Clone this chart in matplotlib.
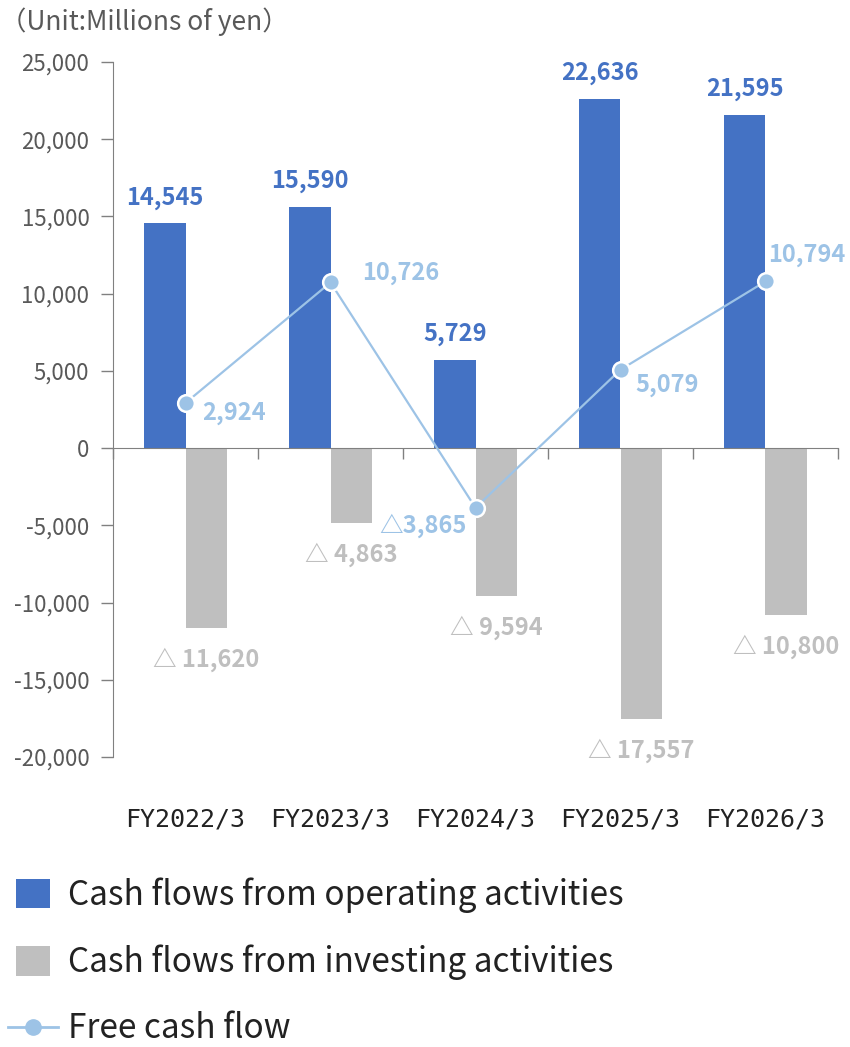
import matplotlib
matplotlib.use("Agg")
import matplotlib.pyplot as plt
from matplotlib.lines import Line2D
from matplotlib.patches import Patch
import numpy as np

plt.rcParams['font.family'] = ['Noto Sans CJK JP', 'DejaVu Sans']

# data (millions of yen)
years = ['FY2022/3', 'FY2023/3', 'FY2024/3', 'FY2025/3', 'FY2026/3']
operating = [14545, 15590, 5729, 22636, 21595]
investing = [-11620, -4863, -9594, -17557, -10800]
free_cf = [2924, 10726, -3865, 5079, 10794]

# colours
c_op = '#4472C4'
c_inv = '#BFBFBF'
c_fcf = '#9DC3E6'
c_text = '#595959'

# offsets (points) + alignment for free cash flow labels
fcf_off = [(12, -7), (23, 7), (-6, -13), (11, -11), (2, 19)]
fcf_ha = ['left', 'left', 'right', 'left', 'left']


def fmt(v):
    if v < 0:
        return '△' + format(-v, ',')
    return format(v, ',')


fig = plt.figure(figsize=(8.5, 10.47), dpi=100)
ax = fig.add_axes([113 / 850, 1 - 757 / 1047, 725 / 850, 695 / 1047])

x = np.arange(len(years))
w = 0.283
ax.bar(x - w / 2, operating, w, color=c_op, zorder=2)
ax.bar(x + w / 2, investing, w, color=c_inv, zorder=2)
ax.plot(x, free_cf, color=c_fcf, lw=1.6, marker='o', ms=12,
        mfc=c_fcf, mec='white', mew=1.8, zorder=4)

for i in range(len(years)):
    ax.annotate(format(operating[i], ','), (x[i] - w / 2, operating[i]),
                xytext=(0, 10), textcoords='offset points', ha='center',
                va='bottom', color=c_op, fontsize=17, fontweight='bold')
    ax.annotate('△ ' + format(-investing[i], ','), (x[i] + w / 2, investing[i]),
                xytext=(0, -23), textcoords='offset points', ha='center',
                va='center', color=c_inv, fontsize=17, fontweight='bold')
    ax.annotate(fmt(free_cf[i]), (x[i], free_cf[i]), xytext=fcf_off[i],
                textcoords='offset points', ha=fcf_ha[i], va='center',
                color=c_fcf, fontsize=17, fontweight='bold')

ax.set_xlim(-0.5, len(years) - 0.5)
ax.set_ylim(-20000, 25000)
ax.set_yticks(np.arange(-20000, 25001, 5000))
ax.set_yticklabels([format(t, ',') for t in range(-20000, 25001, 5000)])
ax.tick_params(axis='y', direction='out', length=9, width=1, color='#808080',
               labelsize=16, labelcolor=c_text, pad=8)

for s in ['top', 'right']:
    ax.spines[s].set_visible(False)
ax.spines['left'].set_color('#808080')
ax.spines['bottom'].set_position(('data', 0))
ax.spines['bottom'].set_color('#808080')
ax.set_xticks([])
ax.set_xticks(np.arange(-0.5, len(years), 1.0), minor=True)
ax.tick_params(axis='x', which='minor', direction='out', length=8,
               width=1, color='#808080')
ax.tick_params(axis='x', which='major', length=0)

for i, yl in enumerate(years):
    ax.text(x[i], -0.09, yl, transform=ax.get_xaxis_transform(),
            ha='center', va='center', fontsize=18, color='#222222',
            family='DejaVu Sans Mono')

fig.text(0 / 850, 1 - 22 / 1047, '（Unit:Millions of yen）', ha='left',
         va='center', fontsize=19, color='#595959')

# legend: squares, then the line entry
sq = [Patch(facecolor=c_op, edgecolor='none'),
      Patch(facecolor=c_inv, edgecolor='none')]
leg1 = fig.legend(sq, ['Cash flows from operating activities',
                       'Cash flows from investing activities'],
                  loc='upper left', bbox_to_anchor=(3 / 850, 1 - 864 / 1047),
                  frameon=False, fontsize=24, handlelength=1.0,
                  handleheight=1.0, labelspacing=0.95, handletextpad=0.55,
                  labelcolor='#222222', borderaxespad=0)
ln = [Line2D([0], [0], color=c_fcf, lw=2, marker='o', ms=11,
             mfc=c_fcf, mec=c_fcf)]
leg2 = fig.legend(ln, ['Free cash flow'], loc='upper left',
                  bbox_to_anchor=(-5 / 850, 1 - 998 / 1047), frameon=False,
                  fontsize=24, handlelength=1.5, handletextpad=0.3,
                  labelcolor='#222222', borderaxespad=0)

fig.savefig('out.png', dpi=100)
